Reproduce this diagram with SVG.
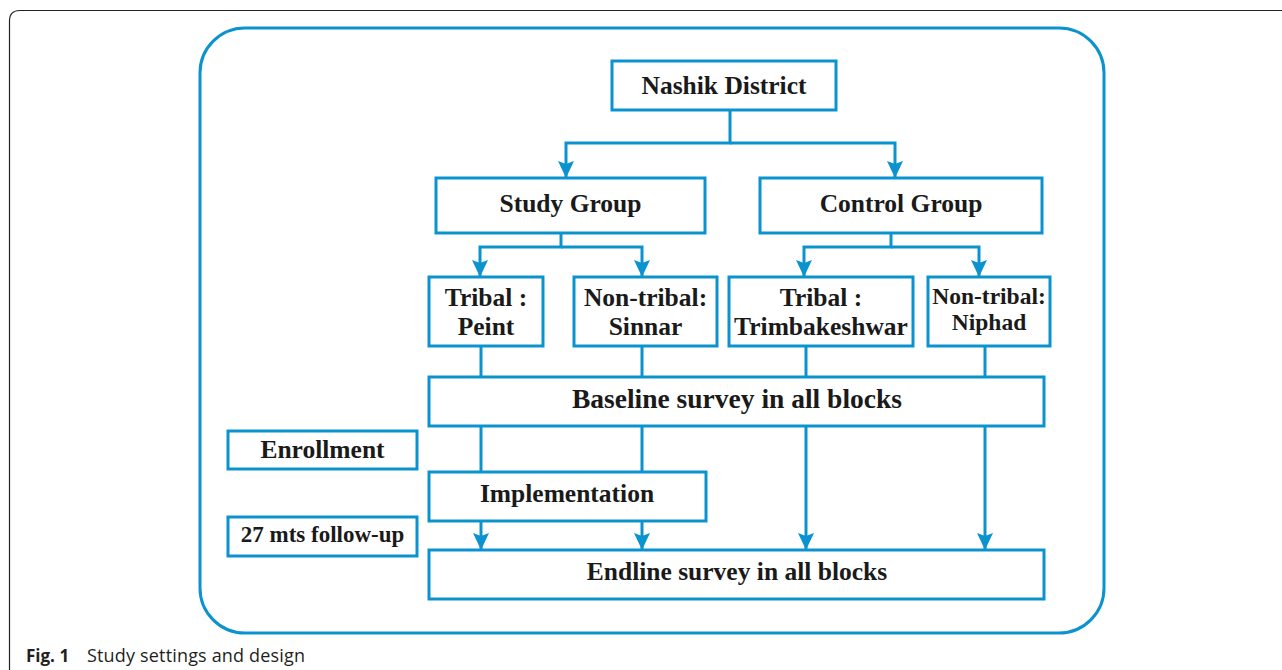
<svg xmlns="http://www.w3.org/2000/svg" width="1282" height="670" viewBox="0 0 1282 670">
<style>
.box{fill:#fff;stroke:#0a93cf;stroke-width:3}
.ln{fill:none;stroke:#0a93cf;stroke-width:3}
.t{font-family:"Liberation Serif","Times New Roman",serif;font-weight:bold;font-size:25.5px;fill:#1a1a1a;text-anchor:middle}
.cap{font-family:"Open Sans","Noto Sans",sans-serif;font-size:18px;fill:#231f20}
</style>
<defs>
<marker id="ah" viewBox="0 0 17 16" refX="17" refY="8" markerWidth="17" markerHeight="16" markerUnits="userSpaceOnUse" orient="auto">
<path d="M0,0 L17,8 L0,16 L3,8 Z" fill="#0a93cf"/>
</marker>
</defs>
<rect width="1282" height="670" fill="#fff"/>
<path d="M9.5,670 L9.5,21 Q9.5,10.5 20,10.5 L1282,10.5" fill="none" stroke="#222" stroke-width="1.2"/>
<rect x="200" y="28" width="904" height="605" rx="45" ry="45" fill="none" stroke="#0a93cf" stroke-width="3"/>

<g id="connectors">
<path class="ln" d="M730,110 V143 H566 V178" marker-end="url(#ah)"/>
<path class="ln" d="M730,143 H895 V178" marker-end="url(#ah)"/>
<path class="ln" d="M561,233 V247 H480 V277" marker-end="url(#ah)"/>
<path class="ln" d="M561,247 H642 V277" marker-end="url(#ah)"/>
<path class="ln" d="M891,233 V247 H804 V277" marker-end="url(#ah)"/>
<path class="ln" d="M891,247 H979 V277" marker-end="url(#ah)"/>
<path class="ln" d="M481,346 V377"/>
<path class="ln" d="M642,346 V377"/>
<path class="ln" d="M806,346 V377"/>
<path class="ln" d="M985,346 V377"/>
<path class="ln" d="M481,426 V472"/>
<path class="ln" d="M642,426 V472"/>
<path class="ln" d="M481,521 V550" marker-end="url(#ah)"/>
<path class="ln" d="M642,521 V550" marker-end="url(#ah)"/>
<path class="ln" d="M806,426 V550" marker-end="url(#ah)"/>
<path class="ln" d="M985,426 V550" marker-end="url(#ah)"/>
</g>

<g id="nashik"><rect class="box" x="612" y="61" width="224" height="49"/><text class="t" x="724" y="93.5">Nashik District</text></g>
<g id="study"><rect class="box" x="436" y="178" width="269" height="55"/><text class="t" x="570.5" y="212">Study Group</text></g>
<g id="control"><rect class="box" x="760" y="178" width="282" height="55"/><text class="t" x="901" y="212">Control Group</text></g>
<g id="peint"><rect class="box" x="429" y="277" width="114" height="69"/><text class="t" x="486" y="306">Tribal :</text><text class="t" x="486" y="335">Peint</text></g>
<g id="sinnar"><rect class="box" x="574" y="277" width="143" height="69"/><text class="t" x="645.5" y="306">Non-tribal:</text><text class="t" x="645.5" y="335">Sinnar</text></g>
<g id="trimbak"><rect class="box" x="729" y="277" width="184" height="69"/><text class="t" x="821" y="306">Tribal :</text><text class="t" x="821" y="335">Trimbakeshwar</text></g>
<g id="niphad"><rect class="box" x="928" y="277" width="122" height="69"/><text class="t" x="989" y="303.5" style="font-size:23.5px">Non-tribal:</text><text class="t" x="989" y="330" style="font-size:23.5px">Niphad</text></g>
<g id="baseline"><rect class="box" x="429" y="377" width="615" height="49"/><text class="t" x="737" y="408" style="font-size:27.5px">Baseline survey in all blocks</text></g>
<g id="enrollment"><rect class="box" x="228" y="431" width="189" height="38"/><text class="t" x="322.5" y="458">Enrollment</text></g>
<g id="implementation"><rect class="box" x="429" y="472" width="277" height="49"/><text class="t" x="567" y="502">Implementation</text></g>
<g id="followup"><rect class="box" x="228" y="517" width="189" height="39"/><text class="t" x="322.5" y="542" style="font-size:23px">27 mts follow-up</text></g>
<g id="endline"><rect class="box" x="429" y="550" width="615" height="49"/><text class="t" x="737" y="580">Endline survey in all blocks</text></g>

<text class="cap" x="26" y="662"><tspan font-weight="bold" font-size="17">Fig. 1</tspan><tspan x="87" textLength="218">Study settings and design</tspan></text>
</svg>
